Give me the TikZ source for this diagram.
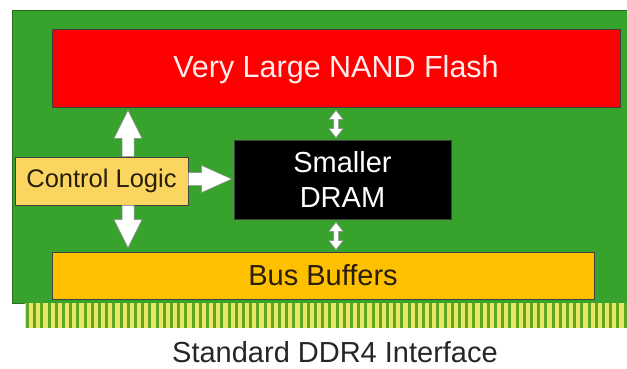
\documentclass[tikz,border=0pt]{standalone}
\usepackage{fontspec}
\setmainfont{Liberation Sans}
\usetikzlibrary{calc}
\definecolor{board}{RGB}{56,163,44}
\definecolor{boardedge}{RGB}{40,110,30}
\definecolor{flashred}{RGB}{255,0,0}
\definecolor{ctrlyel}{RGB}{250,214,96}
\definecolor{busyel}{RGB}{255,192,0}
\definecolor{pinlight}{RGB}{232,232,104}
\definecolor{pindark}{RGB}{96,166,32}
\definecolor{flashtxt}{RGB}{255,236,236}
\definecolor{darktxt}{RGB}{40,30,10}
\tikzset{
  blk/.style={draw=black!75, line width=0.6pt, inner sep=0pt, align=center},
  bigfont/.style={font=\fontsize{29}{35}\selectfont},
  flashfont/.style={font=\fontsize{30.5}{36}\selectfont},
  ctrlfont/.style={font=\fontsize{25.5}{30}\selectfont},
  barrow/.style={fill=white, draw=black!45, line width=0.5pt, line join=miter},
}
% single block arrow from #1 (tail) to #2 (tip); #3 shaft half width, #4 head half width, #5 head length
\newcommand\blockarrowone[5]{%
  \coordinate (tmpA) at (#1);
  \coordinate (tmpB) at (#2);
  \coordinate (tmpH) at ($(tmpB)!#5!(tmpA)$);
  \draw[barrow] ($(tmpA)!#3!90:(tmpB)$) -- ($(tmpH)!#3!-90:(tmpA)$) -- ($(tmpH)!#4!-90:(tmpA)$)
    -- (tmpB) -- ($(tmpH)!#4!90:(tmpA)$) -- ($(tmpH)!#3!90:(tmpA)$) -- ($(tmpA)!#3!-90:(tmpB)$) -- cycle;
}
% double block arrow between #1 and #2
\newcommand\blockarrowtwo[5]{%
  \coordinate (tmpA) at (#1);
  \coordinate (tmpB) at (#2);
  \coordinate (tmpHA) at ($(tmpA)!#5!(tmpB)$);
  \coordinate (tmpHB) at ($(tmpB)!#5!(tmpA)$);
  \draw[barrow] (tmpA) -- ($(tmpHA)!#4!90:(tmpB)$) -- ($(tmpHA)!#3!90:(tmpB)$)
    -- ($(tmpHB)!#3!-90:(tmpA)$) -- ($(tmpHB)!#4!-90:(tmpA)$) -- (tmpB)
    -- ($(tmpHB)!#4!90:(tmpA)$) -- ($(tmpHB)!#3!90:(tmpA)$)
    -- ($(tmpHA)!#3!-90:(tmpB)$) -- ($(tmpHA)!#4!-90:(tmpB)$) -- cycle;
}
\begin{document}
\begin{tikzpicture}[x=1pt,y=-1pt]
\useasboundingbox (0,0) rectangle (627,369);
\fill[white] (0,0) rectangle (627,369);
% board
\path[fill=board, draw=boardedge, line width=0.6pt] (12,10) rectangle (629,303);
% contact strip
\fill[pinlight] (25,303) rectangle (627,328);
\foreach \i in {0,...,83} {
  \fill[pindark] (26+\i*7.2,303) rectangle ++(3,25);
}
% blocks
\node[blk, fill=flashred, text=flashtxt, flashfont, minimum width=568pt, minimum height=78pt, text depth=3pt] (flash) at (336,68) {Very Large NAND Flash};
\node[blk, fill=ctrlyel, text=darktxt, ctrlfont, minimum width=173pt, minimum height=48pt] (ctrl) at (101.5,181) {Control Logic};
\node[blk, fill=black, text=white, bigfont, minimum width=217pt, minimum height=79pt] (dram) at (342.5,179.5) {Smaller\\DRAM};
\node[blk, fill=busyel, text=darktxt, bigfont, minimum width=542pt, minimum height=47pt] (bus) at (323,275.5) {Bus Buffers};
\node[text=black!85, bigfont, inner sep=0pt] (ddr) at (335,352) {Standard DDR4 Interface};
% reference columns for arrows
\coordinate (cx) at (128,0);
\coordinate (dx) at (336,0);
% arrows from control logic
\blockarrowone{cx |- ctrl.north}{$(cx |- flash.south)+(0,3)$}{6pt}{14pt}{28pt}
\blockarrowone{cx |- ctrl.south}{$(cx |- bus.north)+(0,-4)$}{6pt}{14pt}{28pt}
\blockarrowone{$(ctrl.east)+(0,-2)$}{$(dram.west |- ctrl.east)+(-2,-2)$}{6.5pt}{13.5pt}{30pt}
% DRAM double arrows
\blockarrowtwo{$(dx |- flash.south)+(0,3)$}{$(dx |- dram.north)+(0,-2)$}{2.5pt}{7pt}{9pt}
\blockarrowtwo{$(dx |- dram.south)+(0,3)$}{$(dx |- bus.north)+(0,-2)$}{2.5pt}{7pt}{9pt}
\end{tikzpicture}
\end{document}
